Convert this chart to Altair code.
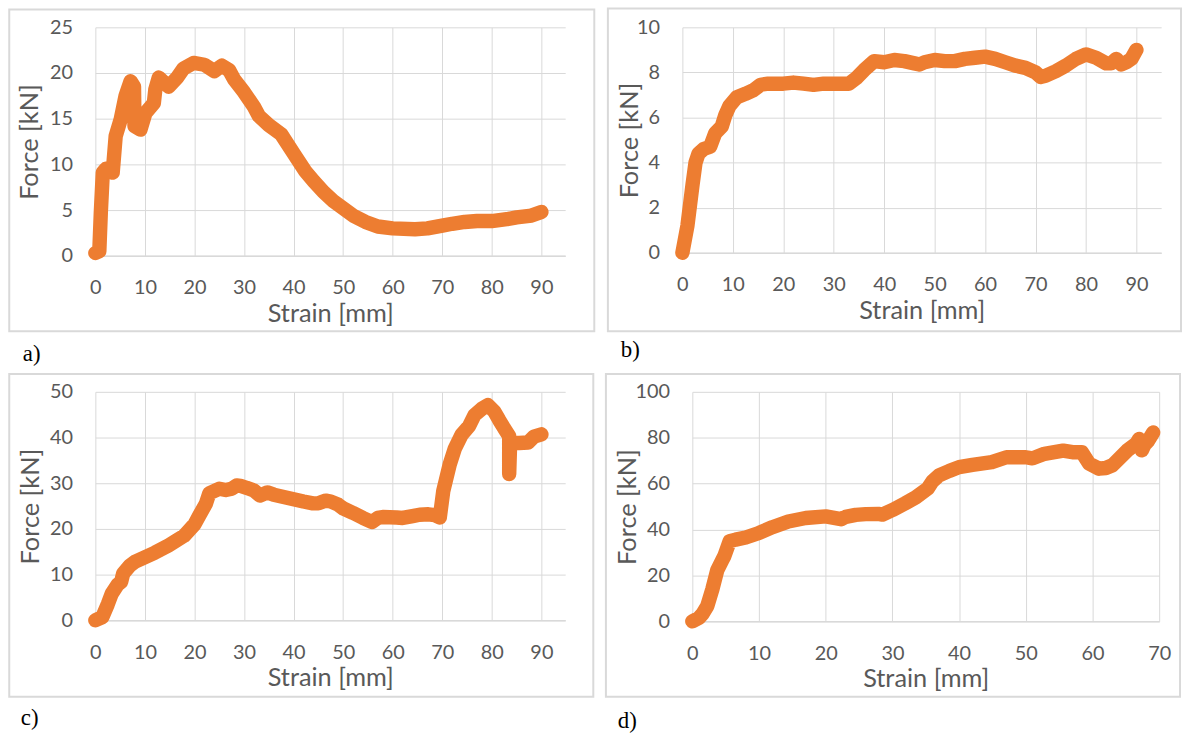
import altair as alt
import pandas as pd

# ---------------- data ----------------
A_STRAIN = [0, 0.8, 1.1, 1.5, 2.1, 3.5, 4.1, 5.1, 6.1, 7.1, 7.8, 7.9, 9.1, 10.1, 11.8, 12.1, 12.8,
            14.8, 16.5, 17.8, 19.8, 22.0, 24.0, 25.5, 27.0, 28.0, 30.0, 32.0, 33.0, 35.0, 37.5, 40.0,
            42.3, 44.0, 46.0, 48.0, 50.0, 52.0, 54.5, 57.0, 60.0, 64.5, 67.0, 70.0, 72.0, 74.5, 77.0,
            80.0, 83.0, 85.0, 88.0, 90.0]
A_FORCE = [0.3, 0.5, 4.7, 9.1, 9.5, 9.1, 13.1, 14.9, 17.5, 19.1, 18.5, 14.2, 13.8, 15.6, 16.7, 18.2, 19.5,
           18.5, 19.5, 20.5, 21.1, 20.9, 20.2, 20.8, 20.3, 19.3, 17.9, 16.3, 15.3, 14.3, 13.3, 11.2,
           9.3, 8.2, 7.0, 6.0, 5.2, 4.4, 3.7, 3.2, 3.0, 2.9, 3.0, 3.3, 3.5, 3.7, 3.8,
           3.8, 4.0, 4.2, 4.4, 4.8]

B_STRAIN = [0, 1, 2, 2.6, 3.2, 4.2, 5.5, 6.5, 7.8, 8.5, 9.3, 10.8, 12.5, 14, 15.5, 17, 20, 22, 24, 26,
            28, 30, 33, 34.5, 36, 38, 40, 42, 44, 46, 47, 48, 50, 52, 54, 56, 58, 60, 62, 64, 66, 68,
            70, 71, 72, 74, 76, 78, 80, 82, 84, 85, 86, 87, 88, 89, 90]
B_FORCE = [0, 1.2, 3.0, 4.0, 4.4, 4.6, 4.7, 5.3, 5.6, 6.1, 6.5, 6.9, 7.05, 7.2, 7.45, 7.5, 7.5, 7.55,
           7.5, 7.45, 7.5, 7.5, 7.5, 7.75, 8.1, 8.5, 8.45, 8.55, 8.5, 8.4, 8.35, 8.45, 8.55, 8.5, 8.5,
           8.6, 8.65, 8.7, 8.6, 8.45, 8.3, 8.2, 8.0, 7.8, 7.85, 8.05, 8.3, 8.6, 8.8, 8.65, 8.4, 8.4,
           8.6, 8.35, 8.45, 8.6, 9.0]

C_STRAIN = [0, 1.4, 2.5, 3.3, 4.5, 5.2, 5.6, 7, 8, 10, 12, 14.8, 16, 17.9, 19, 20, 21, 22.3, 23, 24,
            25, 26.3, 27.5, 28.5, 29.3, 30.5, 32, 33.2, 34.7, 36, 38, 40, 42, 43.9, 45, 46.5, 47.5,
            49, 50, 52, 54, 55.8, 57, 58, 60.8, 62, 64, 65.4, 67.2, 68.5, 69.5, 70.2, 71.5, 72.5,
            73.9, 75.4, 76.5, 78, 79.2, 80.5, 81.5, 82.5, 83.5, 83.5, 83.7, 85.5, 87.3, 88.5, 90]
C_FORCE = [0, 0.7, 3.5, 5.8, 7.8, 8.4, 10.2, 12, 12.8, 13.8, 14.8, 16.4, 17.2, 18.5, 19.8, 21, 23,
           25.5, 27.8, 28.3, 28.8, 28.5, 28.8, 29.5, 29.4, 29.0, 28.4, 27.3, 28.0, 27.5, 27.0, 26.5,
           26.0, 25.6, 25.6, 26.2, 26.0, 25.3, 24.5, 23.5, 22.4, 21.5, 22.4, 22.6, 22.5, 22.4, 22.8,
           23.1, 23.2, 23.0, 22.5, 28.3, 34.1, 37.5, 40.6, 42.5, 44.9, 46.3, 47.1, 45.7, 43.8, 42,
           40.3, 32, 38.9, 38.8, 38.9, 40.2, 40.7]

D_STRAIN = [0, 1, 1.5, 2.25, 3, 3.75, 4.5, 4.8, 5.6, 6.5, 8, 10, 12, 14.4, 17, 20, 22.3, 23, 24.5,
            26, 27.9, 28.5, 30, 31.9, 33.5, 35.3, 36, 37, 38.5, 40, 42, 44.9, 47.1, 50, 51, 52.8,
            55.6, 57, 58.4, 59.5, 61, 62, 63, 65.2, 66.6, 67, 67.4, 67.8, 68.3, 69.1]
D_FORCE = [0, 1.5, 3.1, 6.7, 13.9, 22.4, 26.7, 28.4, 34.9, 35.6, 36.5, 38.5, 41, 43.5, 45, 45.7,
           44.5, 45.5, 46.4, 46.7, 46.8, 46.5, 48.5, 51.4, 54, 57.9, 61, 63.6, 65.5, 67.2, 68.2,
           69.4, 71.5, 71.5, 71, 73, 74.4, 73.7, 73.7, 68.7, 66.5, 66.8, 68, 74.4, 77.5, 79.5,
           74.5, 77, 78.5, 82.3]

X_TICKS_90 = [0, 10, 20, 30, 40, 50, 60, 70, 80, 90]
X_TICKS_70 = [0, 10, 20, 30, 40, 50, 60, 70]
Y_TICKS_A = [0, 5, 10, 15, 20, 25]
Y_TICKS_B = [0, 2, 4, 6, 8, 10]
Y_TICKS_C = [0, 10, 20, 30, 40, 50]
Y_TICKS_D = [0, 20, 40, 60, 80, 100]

X_TITLE = "Strain [mm]"
Y_TITLE = "Force [kN]"
LABELS = ["a)", "b)", "c)", "d)"]

# ---------------- styling ----------------
ORANGE = "#ED7D31"
GRID = "#d9d9d9"
TXT = "#595959"
FONT = "Lato"
FS = 20
TFS = 25.5
TILE_W, TILE_H = 592, 368


def panel(strain, force, xmax, xticks, yticks, w, h, ox, oy, border, label, label_xy, ytitle_x):
    df = pd.DataFrame({"strain": strain, "force": force, "i": list(range(len(strain)))})
    one = alt.Data(values=[{"k": 0}])

    line = alt.Chart(df).mark_line(
        color=ORANGE, strokeWidth=14.5, strokeCap="round", strokeJoin="round"
    ).encode(
        x=alt.X("strain:Q", scale=alt.Scale(domain=[0, xmax], nice=False, zero=False),
                axis=alt.Axis(values=xticks, title=X_TITLE, grid=True, gridColor=GRID,
                              domainColor=GRID, domainWidth=1.5, ticks=False, tickSize=0,
                              labelFont=FONT, labelFontSize=FS, labelColor=TXT,
                              labelPadding=22, titleFont=FONT, titleFontSize=TFS,
                              titleFontWeight="normal", titleColor=TXT,
                              titleX=w / 2, titleY=58, titleAlign="center",
                              titleBaseline="middle", labelFlush=False)),
        y=alt.Y("force:Q", scale=alt.Scale(domain=[0, yticks[-1]], nice=False),
                axis=alt.Axis(values=yticks, title=Y_TITLE, grid=True, gridColor=GRID,
                              domain=False, ticks=False, tickSize=0,
                              labelFont=FONT, labelFontSize=FS, labelColor=TXT,
                              labelPadding=23, titleFont=FONT, titleFontSize=TFS,
                              titleFontWeight="normal", titleColor=TXT,
                              titleX=ytitle_x, titleY=h / 2, titleAngle=270,
                              titleAlign="center", titleBaseline="middle", labelFlush=False)),
        order="i:Q",
    )

    tile = alt.Chart(one).mark_rect(fill="transparent", strokeWidth=0).encode(
        x=alt.value(-ox), x2=alt.value(TILE_W - ox),
        y=alt.value(-oy), y2=alt.value(TILE_H - oy),
    )
    box = alt.Chart(one).mark_rect(fill="transparent", stroke=GRID, strokeWidth=2).encode(
        x=alt.value(border[0]), x2=alt.value(border[1]),
        y=alt.value(border[2]), y2=alt.value(border[3]),
    )
    lab = alt.Chart(one).mark_text(
        font="Liberation Serif", fontSize=23, color="black", align="left", baseline="middle"
    ).encode(x=alt.value(label_xy[0]), y=alt.value(label_xy[1]), text=alt.value(label))

    return alt.layer(tile, box, line, lab).properties(width=w, height=h)


pa = panel(A_STRAIN, A_FORCE, 94.8, X_TICKS_90, Y_TICKS_A, 473, 230, 95.7, 24,
           (-86.7, 502.3, -18, 306), LABELS[0], (-73, 329), -66)
pb = panel(B_STRAIN, B_FORCE, 94.9, X_TICKS_90, Y_TICKS_B, 482, 227, 87, 25,
           (-75, 502, -19, 306), LABELS[1], (-62, 325), -53)
pc = panel(C_STRAIN, C_FORCE, 94.8, X_TICKS_90, Y_TICKS_C, 473, 230, 95.7, 23,
           (-86.7, 501.3, -18, 307), LABELS[2], (-75, 328), -65)
pd_ = panel(D_STRAIN, D_FORCE, 70, X_TICKS_70, Y_TICKS_D, 470, 231, 98, 23,
            (-87, 491, -18, 307), LABELS[3], (-75, 331), -65)

chart = alt.vconcat(
    alt.hconcat(pa, pb, spacing=0),
    alt.hconcat(pc, pd_, spacing=0),
    spacing=0,
).properties(padding=0, background="white").configure_view(strokeWidth=0)

chart.save("out.html", embed_options={"renderer": "svg", "actions": False})
